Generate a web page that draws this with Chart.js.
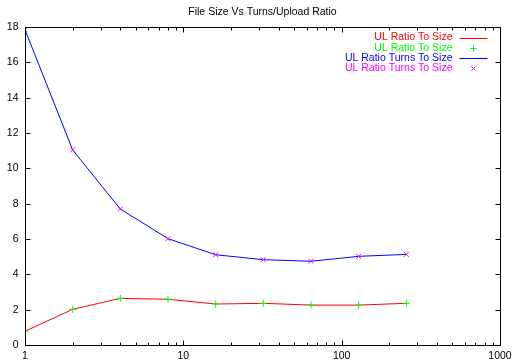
<!DOCTYPE html>
<html>
<head>
<meta charset="utf-8">
<script src="https://cdn.jsdelivr.net/npm/chart.js@4/dist/chart.umd.min.js"></script>
<style>
  html, body { margin: 0; padding: 0; background: #fff; }
  #wrap { width: 512px; height: 362px; }
</style>
</head>
<body>
<div id="wrap"><canvas id="chart"></canvas></div>
<script>
// file sizes (x, log scale)
const fileSizes = [1, 2, 4, 8, 16, 32, 64, 128, 256];
// UL ratio vs size
const ulRatio = [0.78, 2.02, 2.64, 2.59, 2.32, 2.36, 2.26, 2.26, 2.36];
// UL ratio turns vs size
const ulRatioTurns = [17.85, 11.04, 7.70, 6.02, 5.11, 4.83, 4.74, 5.02, 5.13];

const yTicks = [0, 2, 4, 6, 8, 10, 12, 14, 16, 18];
const xMajorTicks = [1, 10, 100, 1000];
const xMinorTicks = [2, 3, 4, 5, 6, 7, 8, 9, 20, 30, 40, 50, 60, 70, 80, 90, 200, 300, 400, 500, 600, 700, 800, 900];
const xTickLabels = ['1', '10', '100', '1000'];

const FONT = '10.5px "Liberation Sans", Arial, sans-serif';

const toPoints = (ys) => fileSizes.map((x, i) => ({ x: x, y: ys[i] }));

// gnuplot style frame, inward ticks on all sides, tick labels and key
const gnuplotFrame = {
  id: 'gnuplotFrame',
  afterDraw(chart) {
    const ctx = chart.ctx;
    const area = chart.chartArea;
    const xs = chart.scales.x;
    const ys = chart.scales.y;
    const L = Math.round(area.left) + 0.5;
    const R = Math.round(area.right) + 0.5;
    const T = Math.round(area.top) + 0.5;
    const B = Math.round(area.bottom) + 0.5;

    ctx.save();
    ctx.strokeStyle = '#000';
    ctx.lineWidth = 1;
    ctx.strokeRect(L, T, R - L, B - T);

    ctx.beginPath();
    const xTick = (v, len) => {
      const px = Math.round(xs.getPixelForValue(v)) + 0.5;
      ctx.moveTo(px, B); ctx.lineTo(px, B - len);
      ctx.moveTo(px, T); ctx.lineTo(px, T + len);
    };
    xMajorTicks.forEach(v => xTick(v, 5));
    xMinorTicks.forEach(v => xTick(v, 3));
    yTicks.forEach(v => {
      const py = Math.round(ys.getPixelForValue(v)) + 0.5;
      ctx.moveTo(L, py); ctx.lineTo(L + 5, py);
      ctx.moveTo(R, py); ctx.lineTo(R - 5, py);
    });
    ctx.stroke();

    ctx.fillStyle = '#000';
    ctx.font = FONT;
    ctx.textAlign = 'right';
    ctx.textBaseline = 'middle';
    yTicks.forEach(v => {
      ctx.fillText(String(v), L - 7, ys.getPixelForValue(v));
    });
    ctx.textAlign = 'center';
    ctx.textBaseline = 'top';
    xMajorTicks.forEach((v, i) => {
      ctx.fillText(xTickLabels[i], xs.getPixelForValue(v), B + 5);
    });

    // key, top right
    const keyRight = R - 48;
    let ky = T + 10;
    ctx.textAlign = 'right';
    ctx.textBaseline = 'middle';
    chart.data.datasets.forEach(ds => {
      ctx.fillStyle = ds.borderColor;
      ctx.strokeStyle = ds.borderColor;
      ctx.fillText(ds.label, keyRight, ky);
      const sx = keyRight + 7;
      if (ds.showLine !== false) {
        ctx.beginPath();
        ctx.moveTo(sx, Math.round(ky) + 0.5);
        ctx.lineTo(sx + 28, Math.round(ky) + 0.5);
        ctx.stroke();
      } else {
        Chart.helpers.drawPoint(ctx, {
          pointStyle: ds.pointStyle, radius: 3, borderWidth: 1
        }, sx + 14, Math.round(ky) + 0.5);
      }
      ky += 10.3;
    });
    ctx.restore();
  }
};

new Chart(document.getElementById('chart'), {
  type: 'scatter',
  data: {
    datasets: [
      { label: 'UL Ratio To Size', data: toPoints(ulRatio), showLine: true, borderColor: '#ff0000', backgroundColor: '#ff0000', borderWidth: 1, pointRadius: 0, order: 2 },
      { label: 'UL Ratio To Size', data: toPoints(ulRatio), showLine: false, borderColor: '#00ff00', backgroundColor: '#00ff00', pointStyle: 'cross', pointRadius: 3.5, pointBorderWidth: 1, order: 1 },
      { label: 'UL Ratio Turns To Size', data: toPoints(ulRatioTurns), showLine: true, borderColor: '#0000ff', backgroundColor: '#0000ff', borderWidth: 1, pointRadius: 0, order: 2 },
      { label: 'UL Ratio Turns To Size', data: toPoints(ulRatioTurns), showLine: false, borderColor: '#ff00ff', backgroundColor: '#ff00ff', pointStyle: 'crossRot', pointRadius: 3.5, pointBorderWidth: 1, order: 1 },
    ]
  },
  options: {
    responsive: true,
    maintainAspectRatio: false,
    animation: false,
    layout: { padding: { left: 25, right: 12, top: 1, bottom: 17 } },
    scales: {
      x: { type: 'logarithmic', min: 1, max: 1000, display: false },
      y: { type: 'linear', min: 0, max: 18, display: false },
    },
    plugins: {
      legend: { display: false },
      tooltip: { enabled: false },
      title: {
        display: true,
        text: 'File Size Vs Turns/Upload Ratio',
        color: '#000',
        font: { family: '"Liberation Sans", Arial, sans-serif', size: 10.5, weight: 'normal', lineHeight: 1.15 },
        padding: { top: 5, bottom: 9 }
      }
    }
  },
  plugins: [gnuplotFrame]
});
</script>
</body>
</html>
